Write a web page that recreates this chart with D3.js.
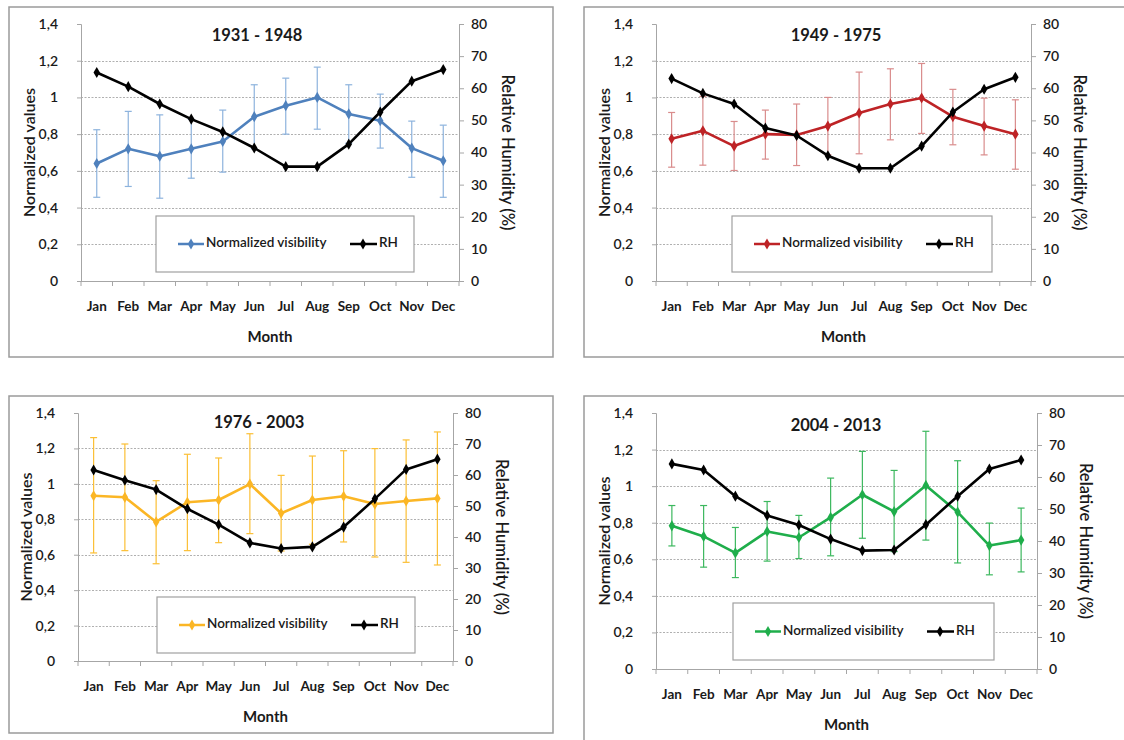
<!DOCTYPE html>
<meta charset="utf-8">
<style>
  body { margin: 0; background: #fff; }
  text { font-family: Lato, "Open Sans", sans-serif; fill: #1a1a1a; }
</style>
<svg width="1124" height="740"></svg>

<script src="https://d3js.org/d3.v7.min.js"></script>
<script>
var months = ['Jan','Feb','Mar','Apr','May','Jun','Jul','Aug','Sep','Oct','Nov','Dec'];
var leftTicks = [0, 0.2, 0.4, 0.6, 0.8, 1, 1.2, 1.4];
var rightTicks = [0, 10, 20, 30, 40, 50, 60, 70, 80];
var gridTicks = [0.2, 0.4, 0.6, 0.8, 1, 1.2];

// 1931 - 1948
var vis1931 = [0.64, 0.72, 0.68, 0.72, 0.76, 0.895, 0.955, 1.0, 0.91, 0.873, 0.724, 0.655];
var hi1931  = [0.824, 0.924, 0.905, 0.88, 0.931, 1.069, 1.105, 1.165, 1.069, 1.018, 0.871, 0.849];
var lo1931  = [0.456, 0.515, 0.451, 0.56, 0.593, 0.72, 0.80, 0.827, 0.75, 0.724, 0.565, 0.456];
var rh1931  = [64.9, 60.5, 55.1, 50.4, 46.4, 41.4, 35.6, 35.6, 42.6, 52.6, 62.2, 65.8];

// 1949 - 1975
var vis1949 = [0.775, 0.818, 0.735, 0.80, 0.796, 0.844, 0.915, 0.964, 0.997, 0.895, 0.844, 0.80];
var hi1949  = [0.918, 1.005, 0.869, 0.931, 0.964, 1.0, 1.138, 1.156, 1.185, 1.044, 0.996, 0.987];
var lo1949  = [0.62, 0.631, 0.602, 0.664, 0.629, 0.688, 0.693, 0.769, 0.804, 0.742, 0.687, 0.609];
var rh1949  = [63.0, 58.4, 55.1, 47.6, 45.3, 39.0, 35.1, 35.1, 42.0, 52.6, 59.7, 63.4];

// 1976 - 2003
var vis1976 = [0.933, 0.924, 0.785, 0.896, 0.909, 0.999, 0.834, 0.909, 0.93, 0.886, 0.903, 0.918];
var hi1976  = [1.261, 1.225, 1.018, 1.167, 1.146, 1.283, 1.048, 1.157, 1.187, 1.199, 1.248, 1.293];
var lo1976  = [0.61, 0.623, 0.549, 0.623, 0.668, 0.719, 0.621, 0.659, 0.672, 0.587, 0.557, 0.542];
var rh1976  = [61.6, 58.3, 55.3, 49.1, 44.0, 38.1, 36.3, 36.8, 43.2, 52.3, 61.8, 65.1];

// 2004 - 2013
var vis2004 = [0.783, 0.725, 0.635, 0.752, 0.719, 0.829, 0.953, 0.861, 1.004, 0.858, 0.675, 0.705];
var hi2004  = [0.894, 0.894, 0.774, 0.916, 0.84, 1.044, 1.19, 1.086, 1.30, 1.139, 0.798, 0.88];
var lo2004  = [0.673, 0.557, 0.50, 0.59, 0.604, 0.619, 0.715, 0.642, 0.705, 0.58, 0.515, 0.531];
var rh2004  = [64.1, 62.2, 54.0, 48.0, 45.0, 40.6, 37.0, 37.2, 45.1, 54.0, 62.5, 65.3];

var panels = [
  {title: '1931 - 1948', vis: vis1931, hi: hi1931, lo: lo1931, rh: rh1931, color: '#4f81bd', errColor: '#8db3dd',
   frame: [9, 7, 544, 350], plot: [81, 459, 24, 281], titleX: 257, titleY: 37, legend: [156, 216, 258, 56]},
  {title: '1949 - 1975', vis: vis1949, hi: hi1949, lo: lo1949, rh: rh1949, color: '#be2326', errColor: '#d98c8c',
   frame: [584, 7, 560, 350], plot: [656, 1031, 24, 281], titleX: 836, titleY: 37, legend: [732, 216, 260, 56]},
  {title: '1976 - 2003', vis: vis1976, hi: hi1976, lo: lo1976, rh: rh1976, color: '#fbb625', errColor: '#fbbf35',
   frame: [9, 396, 544, 337], plot: [78, 453, 413, 661], titleX: 259, titleY: 424, legend: [157, 597, 258, 56]},
  {title: '2004 - 2013', vis: vis2004, hi: hi2004, lo: lo2004, rh: rh2004, color: '#1fae4b', errColor: '#3cb85e',
   frame: [584, 396, 560, 360], plot: [656, 1037, 413, 669], titleX: 836, titleY: 427, legend: [733, 603, 261, 57]}
];

var svg = d3.select('svg');
var axisGrey = '#a6a6a6';
var diamond = d3.symbol().type(d3.symbolDiamond).size(36);

panels.forEach(function (p) {
  var g = svg.append('g');
  var x0 = p.plot[0], x1 = p.plot[1], yTop = p.plot[2], yBot = p.plot[3];

  g.append('rect')
    .attr('x', p.frame[0]).attr('y', p.frame[1])
    .attr('width', p.frame[2]).attr('height', p.frame[3])
    .attr('fill', '#fff').attr('stroke', '#9a9a9a').attr('stroke-width', 1.5);

  var x = d3.scaleBand().domain(months).range([x0, x1]);
  var yL = d3.scaleLinear().domain([0, 1.4]).range([yBot, yTop]);
  var yR = d3.scaleLinear().domain([0, 80]).range([yBot, yTop]);
  var cx = function (d, i) { return x(months[i]) + x.bandwidth() / 2; };

  // gridlines
  g.selectAll('.grid').data(gridTicks).enter().append('line')
    .attr('x1', x0).attr('x2', x1)
    .attr('y1', d => Math.round(yL(d)) + 0.5).attr('y2', d => Math.round(yL(d)) + 0.5)
    .attr('stroke', '#b0b0b0').attr('stroke-width', 1).attr('stroke-dasharray', '2,1.5');

  // left axis
  var la = g.append('g').attr('transform', 'translate(' + x0 + ',0)')
    .call(d3.axisLeft(yL).tickValues(leftTicks).tickSize(4).tickPadding(19)
      .tickFormat(d => d3.format('.1~f')(d).replace('.', ',')));
  la.select('.domain').attr('stroke', axisGrey);
  la.selectAll('.tick line').attr('stroke', axisGrey);
  la.selectAll('.tick text').style('font-size', '14px').style('font-weight', 600).attr('fill', '#1a1a1a');

  // right axis
  var ra = g.append('g').attr('transform', 'translate(' + x1 + ',0)')
    .call(d3.axisRight(yR).tickValues(rightTicks).tickSize(5).tickPadding(7));
  ra.select('.domain').attr('stroke', axisGrey);
  ra.selectAll('.tick line').attr('stroke', axisGrey);
  ra.selectAll('.tick text').style('font-size', '14px').style('font-weight', 600).attr('fill', '#1a1a1a');

  // bottom axis
  var ba = g.append('g').attr('transform', 'translate(0,' + yBot + ')')
    .call(d3.axisBottom(x).tickSize(0).tickPadding(20));
  ba.select('.domain').attr('stroke', axisGrey).attr('d', 'M' + x0 + ',0.5H' + x1);
  ba.selectAll('.tick text').style('font-size', '13.5px').style('font-weight', 700).attr('fill', '#1a1a1a');
  g.selectAll('.xtick').data(d3.range(13)).enter().append('line')
    .attr('x1', i => x0 + i * x.bandwidth()).attr('x2', i => x0 + i * x.bandwidth())
    .attr('y1', yBot).attr('y2', yBot + 5).attr('stroke', axisGrey);

  // axis titles
  g.append('text').attr('x', (x0 + x1) / 2).attr('y', yBot + 57)
    .attr('text-anchor', 'middle').attr('dominant-baseline', 'middle')
    .style('font-size', '15px').style('font-weight', 700).text('Month');
  g.append('text')
    .attr('transform', 'translate(' + (x0 - 50) + ',' + ((yTop + yBot) / 2) + ') rotate(-90)')
    .attr('text-anchor', 'middle').attr('dominant-baseline', 'middle')
    .style('font-size', '16px').style('font-weight', 600).text('Normalized values');
  g.append('text')
    .attr('transform', 'translate(' + (x1 + 47) + ',' + ((yTop + yBot) / 2) + ') rotate(90)')
    .attr('text-anchor', 'middle').attr('dominant-baseline', 'middle')
    .style('font-size', '16.5px').style('font-weight', 600).text('Relative Humidity (%)');

  // title
  g.append('text').attr('x', p.titleX).attr('y', p.titleY)
    .attr('text-anchor', 'middle').attr('dominant-baseline', 'middle')
    .style('font-size', '16.5px').style('font-weight', 700).text(p.title);

  // legend box
  var lg = p.legend;
  g.append('rect').attr('x', lg[0]).attr('y', lg[1]).attr('width', lg[2]).attr('height', lg[3])
    .attr('fill', '#fff').attr('stroke', '#a0a0a0').attr('stroke-width', 1.2);
  var ly = lg[1] + lg[3] / 2;
  g.append('line').attr('x1', lg[0] + 22).attr('x2', lg[0] + 48).attr('y1', ly).attr('y2', ly)
    .attr('stroke', p.color).attr('stroke-width', 2.5);
  g.append('path').attr('d', diamond).attr('transform', 'translate(' + (lg[0] + 35) + ',' + ly + ')').attr('fill', p.color);
  g.append('text').attr('x', lg[0] + 50).attr('y', ly).attr('dominant-baseline', 'middle')
    .style('font-size', '13.5px').style('font-weight', 600).text('Normalized visibility');
  g.append('line').attr('x1', lg[0] + 194).attr('x2', lg[0] + 221).attr('y1', ly).attr('y2', ly)
    .attr('stroke', '#000').attr('stroke-width', 2.5);
  g.append('path').attr('d', diamond).attr('transform', 'translate(' + (lg[0] + 207) + ',' + ly + ')').attr('fill', '#000');
  g.append('text').attr('x', lg[0] + 223).attr('y', ly).attr('dominant-baseline', 'middle')
    .style('font-size', '13.5px').style('font-weight', 600).text('RH');

  // error bars
  var eb = g.append('g').attr('stroke', p.errColor).attr('stroke-width', 1.2);
  eb.selectAll('.eb').data(p.vis).enter().append('line')
    .attr('x1', cx).attr('x2', cx)
    .attr('y1', (d, i) => yL(p.hi[i])).attr('y2', (d, i) => yL(p.lo[i]));
  eb.selectAll('.cap1').data(p.hi).enter().append('line')
    .attr('x1', (d, i) => cx(d, i) - 3.5).attr('x2', (d, i) => cx(d, i) + 3.5)
    .attr('y1', d => yL(d)).attr('y2', d => yL(d));
  eb.selectAll('.cap2').data(p.lo).enter().append('line')
    .attr('x1', (d, i) => cx(d, i) - 3.5).attr('x2', (d, i) => cx(d, i) + 3.5)
    .attr('y1', d => yL(d)).attr('y2', d => yL(d));

  // visibility line
  var lineV = d3.line().x(cx).y(d => yL(d));
  g.append('path').datum(p.vis).attr('d', lineV)
    .attr('fill', 'none').attr('stroke', p.color).attr('stroke-width', 2.6).attr('stroke-linejoin', 'round');
  g.selectAll('.mv').data(p.vis).enter().append('path')
    .attr('d', diamond).attr('fill', p.color)
    .attr('transform', (d, i) => 'translate(' + cx(d, i) + ',' + yL(d) + ')');

  // RH line
  var lineR = d3.line().x(cx).y(d => yR(d));
  g.append('path').datum(p.rh).attr('d', lineR)
    .attr('fill', 'none').attr('stroke', '#000').attr('stroke-width', 2.6).attr('stroke-linejoin', 'round');
  g.selectAll('.mr').data(p.rh).enter().append('path')
    .attr('d', diamond).attr('fill', '#000')
    .attr('transform', (d, i) => 'translate(' + cx(d, i) + ',' + yR(d) + ')');
});
</script>
